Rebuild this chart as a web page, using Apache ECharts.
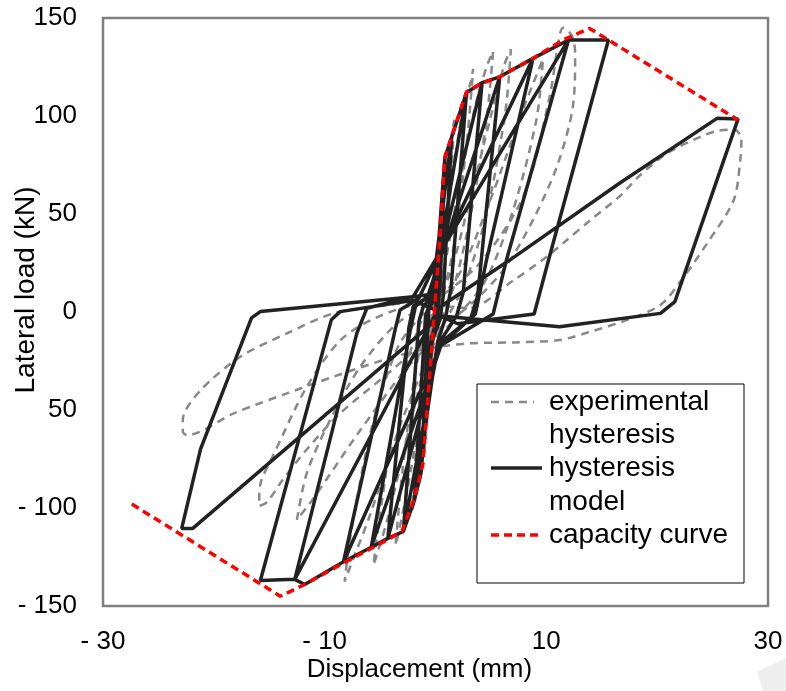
<!DOCTYPE html>
<html>
<head>
<meta charset="utf-8">
<script src="https://cdn.jsdelivr.net/npm/echarts/dist/echarts.min.js"></script>
<style>html,body{margin:0;padding:0;background:#fff}#chart{width:786px;height:691px}</style>
</head>
<body>
<div id="chart"></div>
<script>
// ---- data ----
const xTicks = [-30, -10, 10, 30];
const yTicks = [-150, -100, -50, 0, 50, 100, 150];

const capacityCurve = [
  [-27.4,-98],[-14,-145],[-11.9,-139.3],[-8.6,-129],[-4.1,-115.5],[-3.0,-111.5],[-1.9,-95],
  [-1.15,-78],[-0.6,-38],[0.45,42],[0.85,79],[1.45,89.4],[2.8,112.4],[4.2,116.7],[5.8,120],
  [8.8,129.4],[11.5,138.8],[13.9,144.7],[27.3,98]
];

const modelHysteresis = [
  [0,0],[0.5,40],[0.85,79],
  [0.4,12],[0.1,-4],[-0.4,-14],[-1.3,-82],
  [-0.6,2],[-0.1,6],[0.85,79],[1.45,89],
  [0.7,8],[0.4,-4],[-0.3,-15],[-1.3,-82],[-1.9,-96],
  [-0.9,-2],[-0.4,6],[1.45,89],[2.8,112],
  [1.4,12],[0.9,-3],[0.2,-15],[-1.9,-96],[-2.9,-112],
  [-1.5,-5],[-1.1,3],[-0.3,8],[2.8,112],[4.2,117],
  [2.5,10],[1.9,-2],[0.3,-16],[-2.9,-112],[-4.3,-115.5],
  [-2.4,-8],[-2.0,3],[-0.5,8],[4.2,117],[5.8,120],
  [3.8,8],[3.2,-3],[0.4,-16],[-4.3,-115.5],[-5.8,-120],
  [-2.3,-10],[-1.8,3],[-0.7,8],[5.8,120],[8.8,129.4],
  [4.6,26.5],[3.6,-1],[0.5,-17],[-5.8,-120],[-8.3,-127.4],
  [-3.6,-8],[-3.2,1],[-1.5,7],[8.8,129.4],[12.0,138.8],
  [6.4,26.5],[5.2,-1],[0.5,-17],[-8.3,-127.4],[-11.8,-139],[-12.7,-136.4],
  [-7.1,-10.9],[-6.2,1.9],[-2,8],[12.0,138.8],[15.6,138.8],
  [10.2,26.5],[8.9,-1],[2,-6],[0,-1],[-12.7,-136.4],[-15.8,-137],
  [-9.4,-4],[-8.6,0.2],[-2,6],[0,1],[6.7,26.5],[16.6,65.7],[25.4,98.8],[27.3,98.5],
  [21.6,5.3],[20.3,-0.7],[11.2,-7.5],[0.5,-2],[-21.9,-110.4],[-22.9,-110.4],
  [-21.2,-70],[-16.6,-3],[-15.8,0.2],[-2,7.8],[-0.5,9]
];

const experimentalHysteresis = [
  [0,0],[0.3,30],[0.6,62],[0.9,80],[0.7,50],[0.3,10],[-0.2,-15],[-0.6,-45],[-1.0,-72],[-0.8,-40],[-0.3,-5],
  [0.3,25],[0.9,65],[1.5,92],[1.7,98],[1.3,60],[0.6,15],[-0.2,-15],[-0.9,-50],[-1.7,-90],[-2.1,-101],[-1.7,-65],[-0.8,-15],
  [0.2,12],[1.2,55],[2.3,98],[3.2,118],[3.4,124],[2.8,85],[1.6,32],[0.4,2],[-0.8,-30],[-2.2,-80],[-3.3,-112],[-3.6,-119],[-3.0,-82],[-1.8,-30],[-0.6,-2],
  [0.6,18],[2.0,60],[3.5,103],[4.6,125],[5.2,133],[4.6,98],[3.2,50],[1.6,12],[-0.3,-14],[-2.4,-60],[-4.3,-105],[-5.3,-124],[-5.6,-129],[-4.8,-95],[-3.2,-40],[-1.3,-5],
  [1,15],[3,55],[5,100],[6.2,126],[6.8,134],[6.3,102],[4.6,50],[2.6,14],[0.2,-12],[-3,-55],[-6,-105],[-7.7,-130],[-8.2,-137.5],[-7.6,-112],[-5.8,-60],[-3.4,-18],[-1,0],
  [2,18],[5,58],[7.8,102],[9.2,122],[9.7,129],[9.1,98],[7,52],[4.5,16],[1.5,-5],[-2.5,-28],[-7,-62],[-11,-95],[-12.5,-106],[-11.6,-82],[-9.5,-55],[-6.8,-28],[-3.5,-6],
  [0,6],[4,25],[8,60],[10.3,110],[11.1,138],[11.5,145],[12.3,141],[12.6,132],[12.4,105],[11,75],[8.8,47],[6.2,22],[3.2,4],[0,-10],[-4,-30],[-8.6,-51.7],[-11.6,-70],[-13.8,-85.7],[-15.2,-97],[-15.9,-99],[-15.9,-93],[-15.7,-85.7],[-14.7,-73.8],[-11.6,-38],[-8.5,-14],[-5,-2],[-1,4],
  [3,2],[7,16],[10,28],[11.7,36],[14,47],[16.6,59],[18.5,70],[20.9,81],[23.9,89.4],[25.5,92.5],[27,93],[27.6,88],[27.5,77.6],[26.9,57],[24.5,35],[22.2,16.3],[20.3,3.6],[17.3,-4],[14,-10],[11.2,-14.3],[7,-15.5],[3,-16],[-1,-19],[-4.7,-24.5],[-9.2,-33],[-13.4,-41.5],[-18.2,-51.7],[-22.4,-62.8],[-22.8,-61],[-22.8,-55],[-21.2,-40],[-17.6,-22.8],[-13.4,-10.9],[-9.2,-0.7],[-5,3],[-1,6]
];

const seriesNames = ['experimental hysteresis', 'hysteresis model', 'capacity curve'];
const legendLabels = [['experimental', 'hysteresis'], ['hysteresis', 'model'], ['capacity curve']];
const xTitle = 'Displacement (mm)';
const yTitle = 'Lateral load (kN)';

// ---- chart ----
const FONT = "'Liberation Sans', Arial, sans-serif";
const fmt = v => (v < 0 ? '- ' + Math.abs(v) : String(v));

const chart = echarts.init(document.getElementById('chart'), null, {renderer: 'canvas'});

const legendX = 477, legendY = 384, legendW = 267, legendH = 199;
const rowY = [402, 435, 468, 502, 535];
const graphics = [
  {type: 'rect', shape: {x: legendX, y: legendY, width: legendW, height: legendH},
   style: {fill: '#fff', stroke: '#000', lineWidth: 1}, z: 100},
  {type: 'line', shape: {x1: 491, y1: rowY[0], x2: 534, y2: rowY[0]},
   style: {stroke: '#888888', lineWidth: 2.5, lineDash: [8, 6]}, z: 101},
  {type: 'line', shape: {x1: 491, y1: rowY[2], x2: 542, y2: rowY[2]},
   style: {stroke: '#222222', lineWidth: 3.5}, z: 101},
  {type: 'line', shape: {x1: 491, y1: rowY[4], x2: 542, y2: rowY[4]},
   style: {stroke: '#ff0000', lineWidth: 3.5, lineDash: [8, 5]}, z: 101}
];
const legendTexts = [legendLabels[0][0], legendLabels[0][1], legendLabels[1][0], legendLabels[1][1], legendLabels[2][0]];
legendTexts.forEach((t, i) => {
  graphics.push({type: 'text', x: 549, y: rowY[i], z: 101,
    style: {text: t, fontSize: 28, fontFamily: FONT, fill: '#000', verticalAlign: 'middle', align: 'left'}});
});
// y-axis title (white box hides the minus sign of the -50 label, as in the reference)
graphics.push({type: 'text', x: 26, y: 290, rotation: Math.PI / 2, z: 120,
  style: {text: yTitle, fontSize: 28, fontFamily: FONT, fill: '#000', align: 'center', verticalAlign: 'middle',
          backgroundColor: '#fff', padding: [3, 42, 3, 42]}});
graphics.push({type: 'polygon', shape: {points: [[757, 672], [786, 658], [786, 691], [763, 691]]},
  style: {fill: '#eeeeee'}, z: 0});

chart.setOption({
  animation: false,
  backgroundColor: '#fff',
  textStyle: {fontFamily: FONT},
  grid: {left: 103, right: 18, top: 18, bottom: 85, show: true, borderColor: '#808080', borderWidth: 2.5,
         containLabel: false, outerBoundsMode: 'none'},
  xAxis: {
    type: 'value', min: -30, max: 30, interval: 20,
    name: xTitle, nameLocation: 'middle', nameGap: 51, nameMoveOverlap: false,
    nameTextStyle: {fontSize: 26, color: '#000', fontFamily: FONT, padding: [0, 32, 0, 0]},
    axisLine: {show: false}, axisTick: {show: false}, splitLine: {show: false},
    axisLabel: {fontSize: 26, color: '#000', fontFamily: FONT, margin: 23, formatter: fmt, showMinLabel: true, showMaxLabel: true}
  },
  yAxis: {
    type: 'value', min: -150, max: 150, interval: 50,
    axisLine: {show: false}, axisTick: {show: false}, splitLine: {show: false},
    axisLabel: {fontSize: 26, color: '#000', fontFamily: FONT, margin: 26, formatter: fmt}
  },
  series: [
    {name: seriesNames[0], type: 'line', data: experimentalHysteresis, showSymbol: false, smooth: 0.3,
     lineStyle: {color: '#888888', width: 2.5, type: [8, 6]}, z: 2},
    {name: seriesNames[1], type: 'line', data: modelHysteresis, showSymbol: false,
     lineStyle: {color: '#222222', width: 3.5}, z: 3},
    {name: seriesNames[2], type: 'line', data: capacityCurve, showSymbol: false,
     lineStyle: {color: '#ff0000', width: 3.5, type: [8, 5]}, z: 4}
  ],
  graphic: graphics
});
</script>
</body>
</html>
